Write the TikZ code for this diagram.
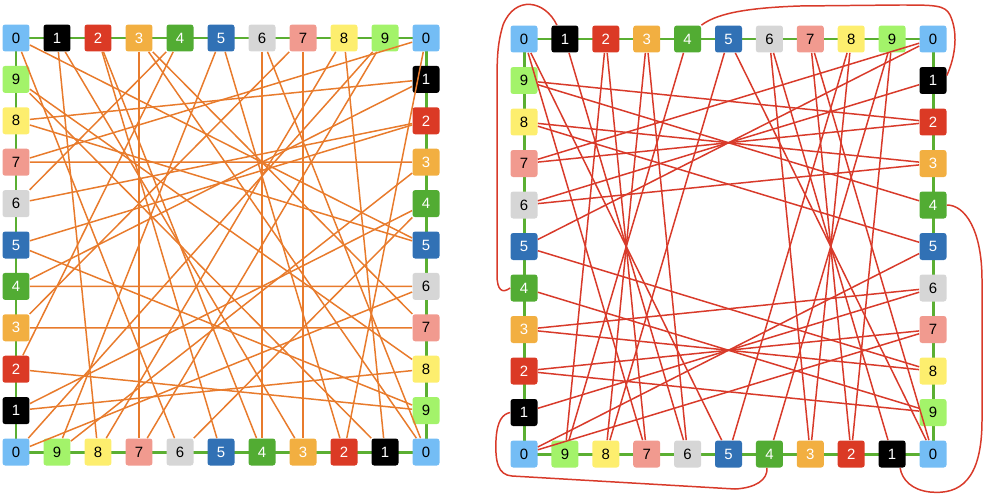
\documentclass[tikz,border=0pt]{standalone}
\usepackage{fontspec}
\setmainfont{Liberation Sans}
\usetikzlibrary{positioning}

\definecolor{cZero}{HTML}{74BDF5}
\definecolor{cOne}{HTML}{000000}
\definecolor{cTwo}{HTML}{DB3A25}
\definecolor{cThree}{HTML}{F2AF41}
\definecolor{cFour}{HTML}{52AC33}
\definecolor{cFive}{HTML}{3171B5}
\definecolor{cSix}{HTML}{D6D6D6}
\definecolor{cSeven}{HTML}{F19A8F}
\definecolor{cEight}{HTML}{FDEE6E}
\definecolor{cNine}{HTML}{A3F36A}
\definecolor{rim}{HTML}{5BAF32}
\definecolor{chordA}{HTML}{E87B2C}
\definecolor{chordB}{HTML}{D83A2A}

\begin{document}
\begin{tikzpicture}[x=0.02cm, y=-0.02cm]
	\tikzstyle{Digit} = [rectangle, rounded corners=1.5pt, minimum size=0.54cm, inner sep=0pt, font=\fontsize{8.5}{9}\selectfont]
	\tikzstyle{D0} = [Digit, fill=cZero, text=black]
	\tikzstyle{D1} = [Digit, fill=cOne, text=white]
	\tikzstyle{D2} = [Digit, fill=cTwo, text=white]
	\tikzstyle{D3} = [Digit, fill=cThree, text=white]
	\tikzstyle{D4} = [Digit, fill=cFour, text=white]
	\tikzstyle{D5} = [Digit, fill=cFive, text=white]
	\tikzstyle{D6} = [Digit, fill=cSix, text=black]
	\tikzstyle{D7} = [Digit, fill=cSeven, text=black]
	\tikzstyle{D8} = [Digit, fill=cEight, text=black]
	\tikzstyle{D9} = [Digit, fill=cNine, text=black]
	\tikzstyle{Rim}   = [rim, line width=1.7pt]
	\tikzstyle{Chord} = [chordA, line width=0.85pt]
	\tikzstyle{Link}  = [chordB, line width=0.85pt]

	\useasboundingbox (0,0) rectangle (986,497);

	% frames
	\draw[Rim] (16,38) rectangle (426,452);
	\draw[Rim] (524,39) rectangle (933,454);

	% left square, places a0..a39 clockwise from the top left corner
	\foreach \i in {0,...,9} {
		\pgfmathtruncatemacro\p{\i+10}
		\pgfmathtruncatemacro\q{\i+20}
		\pgfmathtruncatemacro\r{\i+30}
		\node[D\i] (a\i) at (16+41*\i, 38) {\i};
		\node[D\i] (a\p) at (426, 38+41.4*\i) {\i};
		\node[D\i] (a\q) at (426-41*\i, 452) {\i};
		\node[D\i] (a\r) at (16, 452-41.4*\i) {\i};
	}

	% right square, places b0..b39
	\foreach \i in {0,...,9} {
		\pgfmathtruncatemacro\p{\i+10}
		\pgfmathtruncatemacro\q{\i+20}
		\pgfmathtruncatemacro\r{\i+30}
		\node[D\i] (b\i) at (524+40.9*\i, 39) {\i};
		\node[D\i] (b\p) at (933, 39+41.5*\i) {\i};
		\node[D\i] (b\q) at (933-40.9*\i, 454) {\i};
		\node[D\i] (b\r) at (524, 454-41.5*\i) {\i};
	}

	% left: tangled chords
	\foreach \s/\t in {3/27, 6/24, 7/23, 37/13, 34/16, 33/17, 3/17, 3/20,
	                   7/33, 31/18, 5/22, 5/29, 6/20, 8/21, 10/22, 1/28,
	                   4/32, 4/36, 11/38, 10/37, 0/26, 0/15, 1/23, 2/25,
	                   2/24, 8/28, 9/27, 9/30, 12/35, 12/36, 34/11, 35/19,
	                   38/15, 39/18, 32/19, 31/14, 29/13, 39/21, 30/16, 26/14}
		\draw[Chord] (a\s) -- (a\t);

	% right: one quarter of chords, turned four times
	\foreach \s/\t in {0/27, 2/29, 0/25, 1/26, 2/27, 3/28, 4/29, 3/26, 5/28}
		\foreach \k in {0,10,20,30} {
			\pgfmathtruncatemacro\u{mod(\s+\k,40)}
			\pgfmathtruncatemacro\v{mod(\t+\k,40)}
			\draw[Link] (b\u) -- (b\v);
		}

	% right: loops round the corners
	\draw[Link] (b1.120) .. controls (545,0) and (515,-5) .. (503,25) .. controls (497,45) and (497,60) .. (497,90) -- (497,275) .. controls (497,290) and (502,294) .. (b34.west);
	\draw[Link] (b4.45) .. controls (715,15) and (740,8) .. (800,6) -- (900,5) .. controls (935,5) and (945,5) .. (950,15) .. controls (958,32) and (956,55) .. (b11.20);
	\draw[Link] (b14.east) .. controls (965,205) and (982,230) .. (982,280) -- (982,420) .. controls (982,480) and (960,495) .. (930,492) .. controls (912,490) and (902,480) .. (b21.-60);
	\draw[Link] (b24.-100) .. controls (768,480) and (755,488) .. (735,489) -- (512,476) .. controls (498,475) and (495,462) .. (496,440) .. controls (497,420) and (503,414) .. (b31.west);
\end{tikzpicture}
\end{document}
